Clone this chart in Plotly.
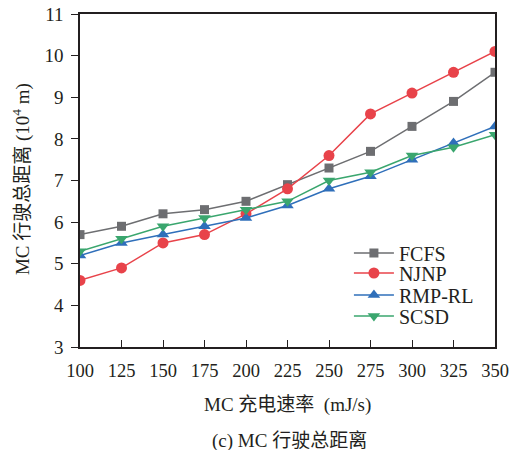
import plotly.graph_objects as go

rates = [100, 125, 150, 175, 200, 225, 250, 275, 300, 325, 350]
fcfs = [5.7, 5.9, 6.2, 6.3, 6.5, 6.9, 7.3, 7.7, 8.3, 8.9, 9.6]
njnp = [4.6, 4.9, 5.5, 5.7, 6.2, 6.8, 7.6, 8.6, 9.1, 9.6, 10.1]
rmprl = [5.2, 5.5, 5.7, 5.9, 6.1, 6.4, 6.8, 7.1, 7.5, 7.9, 8.3]
scsd = [5.3, 5.6, 5.9, 6.1, 6.3, 6.5, 7.0, 7.2, 7.6, 7.8, 8.1]

FONT = "Liberation Serif, Times New Roman, Noto Sans CJK SC, serif"
INK = "#231f20"

series = [
    ("FCFS", fcfs, "#6d6e71", "square", 9),
    ("NJNP", njnp, "#e8434a", "circle", 11),
    ("RMP-RL", rmprl, "#2f6fba", "triangle-up", 11),
    ("SCSD", scsd, "#3aa66e", "triangle-down", 11),
]
legend_ids = ["legend", "legend2", "legend3", "legend4"]
legend_y = [0.2823, 0.2222, 0.1562, 0.0931]

fig = go.Figure()
for (name, vals, color, sym, sz), lid in zip(series, legend_ids):
    fig.add_trace(go.Scatter(
        x=rates, y=vals, name=name, mode="lines+markers",
        line=dict(color=color, width=1.5),
        marker=dict(symbol=sym, size=sz, color=color),
        legend=lid,
    ))

legend_common = dict(xanchor="left", yanchor="middle", bgcolor="rgba(0,0,0,0)",
                     font=dict(size=20, family=FONT, color=INK), itemwidth=40,
                     borderwidth=0)
layout_legends = {}
for lid, ly in zip(legend_ids, legend_y):
    layout_legends[lid] = dict(x=0.648, y=ly, **legend_common)

fig.update_layout(
    width=509, height=450,
    margin=dict(l=80, r=14, t=14, b=103),
    paper_bgcolor="white", plot_bgcolor="white",
    font=dict(family=FONT, size=19, color=INK),
    showlegend=True,
    xaxis=dict(
        range=[100, 350], tickvals=rates, ticks="inside", ticklen=7,
        tickcolor=INK, showline=True, linecolor=INK, linewidth=1.5,
        mirror=True, showgrid=False, zeroline=False, automargin=False,
        tickfont=dict(size=18.5), ticklabelstandoff=6, ticklabeloverflow="allow",
    ),
    yaxis=dict(
        range=[3, 11], dtick=1, ticks="outside", ticklen=7,
        tickcolor=INK, showline=True, linecolor=INK, linewidth=1.5,
        mirror=True, showgrid=False, zeroline=False, automargin=False,
        tickfont=dict(size=19), ticklabelstandoff=4, ticklabeloverflow="allow",
    ),
    annotations=[
        dict(text="MC 充电速率\u00a0 (mJ/s)", xref="paper", yref="paper",
             x=0.499, y=-0.174, xanchor="center", yanchor="middle",
             showarrow=False, font=dict(size=19)),
        dict(text="(c) MC 行驶总距离", xref="paper", yref="paper",
             x=0.506, y=-0.281, xanchor="center", yanchor="middle",
             showarrow=False, font=dict(size=19)),
        dict(text="MC 行驶总距离 (10<sup>4</sup> m)", xref="paper", yref="paper",
             x=-0.142, y=0.5045, xanchor="center", yanchor="middle",
             textangle=-90, showarrow=False, font=dict(size=19)),
    ],
    **layout_legends,
)

fig.write_html("out.html", config={"displayModeBar": False},
               post_script="document.body.style.margin='0';")
